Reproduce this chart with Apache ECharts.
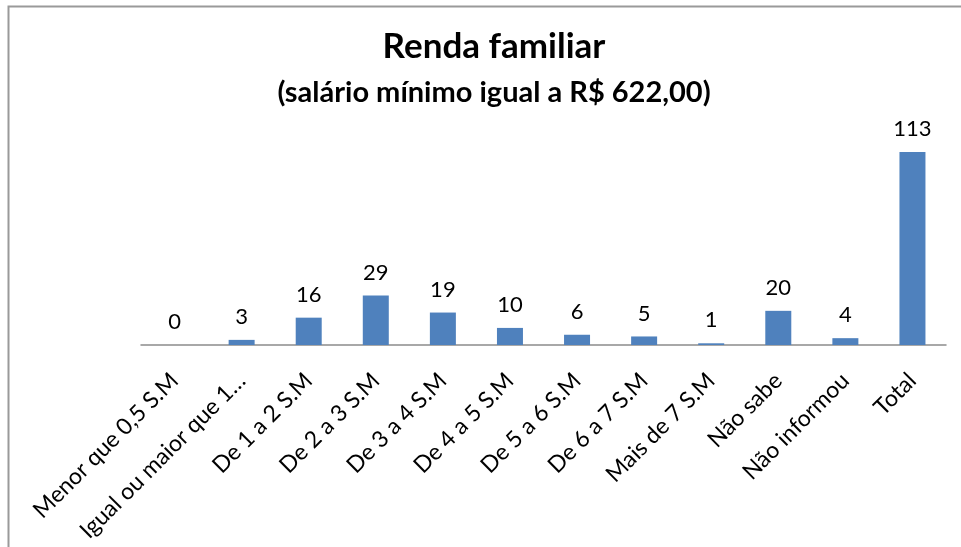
<!DOCTYPE html>
<html>
<head>
<meta charset="utf-8">
<script src="https://cdn.jsdelivr.net/npm/echarts@6/dist/echarts.min.js"></script>
<style>
  html, body { margin: 0; padding: 0; background: #fff; }
  #chart { width: 961px; height: 547px; }
</style>
</head>
<body>
<div id="chart"></div>
<script>
var categories = ['Menor que 0,5 S.M', 'Igual ou maior que 1…', 'De 1 a 2 S.M', 'De 2 a 3 S.M',
    'De 3 a 4 S.M', 'De 4 a 5 S.M', 'De 5 a 6 S.M', 'De 6 a 7 S.M', 'Mais de 7 S.M',
    'Não sabe', 'Não informou', 'Total'];
var values = [0, 3, 16, 29, 19, 10, 6, 5, 1, 20, 4, 113];

var font = 'Lato, "Open Sans", sans-serif';

var chart = echarts.init(document.getElementById('chart'));
var option = {
    backgroundColor: '#fff',
    animation: false,
    title: {
        text: 'Renda familiar',
        subtext: '(salário mínimo igual a R$ 622,00)',
        left: 489,
        textAlign: 'center',
        top: 24,
        itemGap: 14,
        textStyle: { fontFamily: font, fontSize: 35, fontWeight: 'bold', color: '#000' },
        subtextStyle: { fontFamily: font, fontSize: 29, fontWeight: 'bold', color: '#000' }
    },
    graphic: [{
        type: 'rect',
        shape: { x: 8.5, y: 6.5, width: 1000, height: 1000 },
        style: { fill: null, stroke: '#9a9a9a', lineWidth: 2 }
    }],
    grid: { left: 141, right: 15, top: 140, bottom: 202 },
    xAxis: {
        type: 'category',
        data: categories,
        axisLine: { lineStyle: { color: '#8c8c8c', width: 1.5 } },
        axisTick: { show: false },
        axisLabel: {
            interval: 0,
            rotate: 45,
            margin: 32,
            fontFamily: font,
            fontSize: 23,
            color: '#000'
        }
    },
    yAxis: {
        type: 'value',
        min: 0,
        max: 120,
        show: false,
        splitLine: { show: false }
    },
    series: [{
        type: 'bar',
        data: values,
        barWidth: 26,
        itemStyle: { color: '#4f81bd' },
        label: {
            show: true,
            position: 'top',
            distance: 12,
            fontFamily: font,
            fontSize: 22,
            color: '#000'
        }
    }]
};
chart.setOption(option);
</script>
</body>
</html>
